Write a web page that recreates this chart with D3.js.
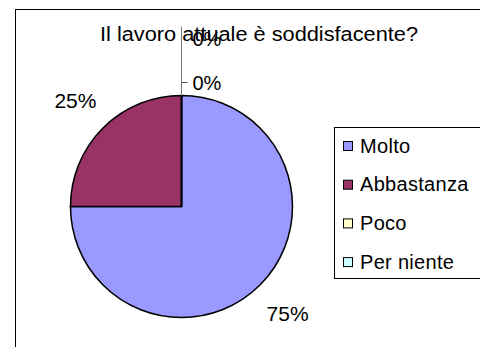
<!DOCTYPE html>
<html>
<head>
<meta charset="utf-8">
<script src="https://cdn.jsdelivr.net/npm/d3@7"></script>
<style>
  html, body { margin: 0; padding: 0; background: #fff; }
  svg { display: block; font-family: "Liberation Sans", Arial, sans-serif; }
</style>
</head>
<body>
<svg id="chart" width="480" height="347"></svg>
<script>
// ---- data ----
const title = "Il lavoro attuale è soddisfacente?";
const categories = ["Molto", "Abbastanza", "Poco", "Per niente"];
const values = [75, 25, 0, 0];
const colors = ["#9999FF", "#993366", "#FFFFCC", "#CCFFFF"];

// ---- layout ----
const cx = 181.5, cy = 206.5, R = 111;
const labelR = 150;

const svg = d3.select("#chart");

// outer chart frame (extends past the window on right/bottom)
svg.append("rect")
  .attr("x", 15.5).attr("y", 9.5)
  .attr("width", 600).attr("height", 500)
  .attr("fill", "#fff").attr("stroke", "#000").attr("stroke-width", 1);

// title
svg.append("text")
  .attr("x", 259).attr("y", 40.5)
  .attr("text-anchor", "middle")
  .attr("font-size", 20)
  .attr("textLength", 318).attr("lengthAdjust", "spacingAndGlyphs")
  .attr("fill", "#000")
  .text(title);

const total = d3.sum(values);
const pie = d3.pie().sort(null).value(d => d)(values);
const arc = d3.arc().innerRadius(0).outerRadius(R);

const g = svg.append("g").attr("transform", `translate(${cx},${cy})`);
g.selectAll("path.slice")
  .data(pie)
  .join("path")
  .attr("class", "slice")
  .attr("d", arc)
  .attr("fill", (d, i) => colors[i])
  .attr("stroke", "#000")
  .attr("stroke-width", 1.5)
  .attr("stroke-linejoin", "miter");

const fmt = v => Math.round(v / total * 100) + "%";

// labels for non-zero slices at outside positions
pie.forEach((d, i) => {
  if (d.value > 0) {
    const a = (d.startAngle + d.endAngle) / 2;
    const x = labelR * Math.sin(a), y = -labelR * Math.cos(a);
    g.append("text")
      .attr("x", x).attr("y", y + 8)
      .attr("text-anchor", "middle")
      .attr("font-size", 21)
      .attr("fill", "#000")
      .text(fmt(d.value));
  }
});

// zero-value slices: labels pushed to the side, with leader lines
const zeros = pie.filter(d => d.value === 0);
zeros.forEach((d, k) => {
  const a = d.startAngle;
  const px = R * Math.sin(a), py = -R * Math.cos(a);
  const ly = py - 19 - k * 44; // stacked above pie top
  if (k === 0) {
    g.append("path")
      .attr("d", `M${px},${py} L${px},${ly + 6} L${px + 6},${ly + 6}`)
      .attr("fill", "none").attr("stroke", "#555").attr("stroke-width", 1);
  } else {
    g.append("path")
      .attr("d", `M${px},${py} L${px},${ly - 6}`)
      .attr("fill", "none").attr("stroke", "#777").attr("stroke-width", 1);
  }
  g.append("text")
    .attr("x", px + 11).attr("y", ly + 13)
    .attr("font-size", 20)
    .attr("fill", "#000")
    .text(fmt(d.value));
});

// legend
const lg = svg.append("g");
lg.append("rect")
  .attr("x", 334.5).attr("y", 127.5)
  .attr("width", 200).attr("height", 151)
  .attr("fill", "#fff").attr("stroke", "#000").attr("stroke-width", 1);

const ly0 = 146, lstep = 38.7;
const items = lg.selectAll("g.item")
  .data(categories)
  .join("g")
  .attr("class", "item")
  .attr("transform", (d, i) => `translate(0,${ly0 + i * lstep})`);
items.append("rect")
  .attr("x", 343.5).attr("y", -4.5)
  .attr("width", 9).attr("height", 9)
  .attr("fill", (d, i) => colors[i])
  .attr("stroke", "#000").attr("stroke-width", 1);
items.append("text")
  .attr("x", 360).attr("y", 6.5)
  .attr("font-size", 20)
  .attr("letter-spacing", 0.3)
  .attr("fill", "#000")
  .text(d => d);
</script>
</body>
</html>
